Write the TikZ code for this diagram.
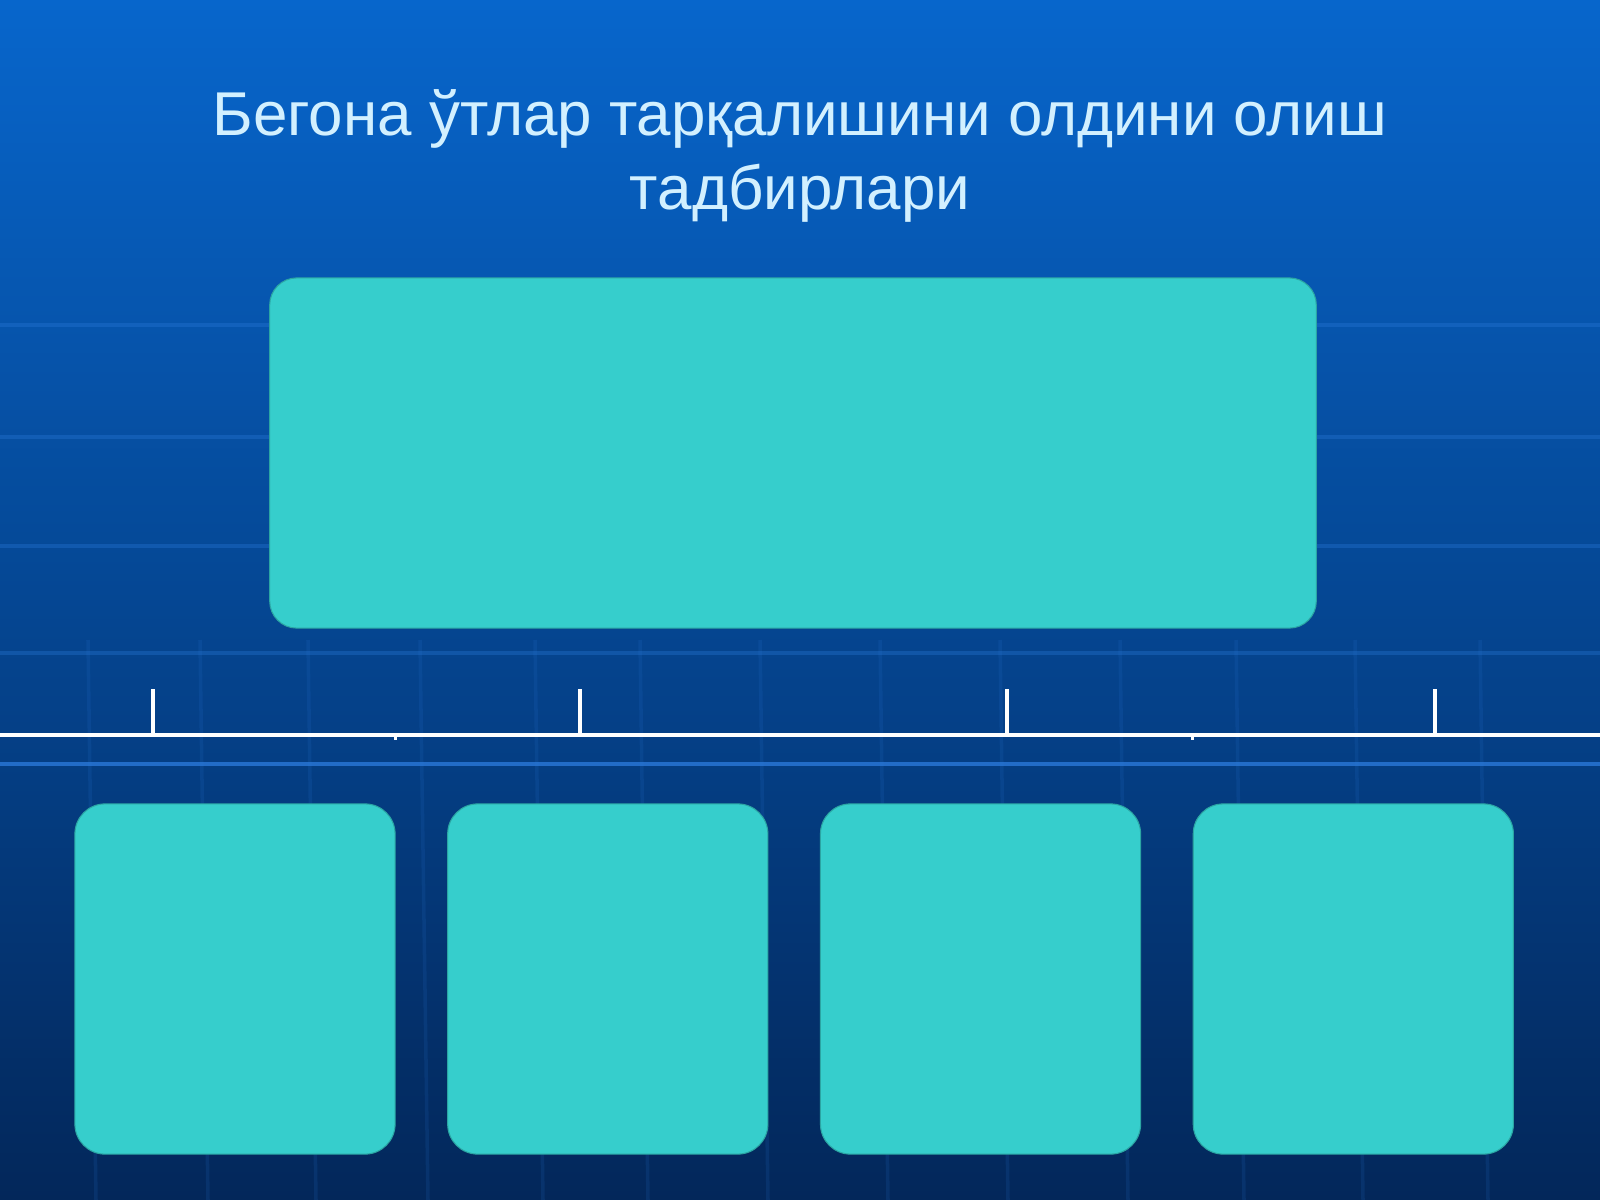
\documentclass[tikz,border=0pt]{standalone}
\usepackage{fontspec}
\setmainfont{Liberation Sans}
\usepackage{tikz}
\usetikzlibrary{positioning}
\definecolor{topblue}{HTML}{0766CC}
\definecolor{midblue}{HTML}{004C9E}
\definecolor{lowblue}{HTML}{03275A}
\definecolor{gridblue}{HTML}{2A78D8}
\definecolor{turq}{HTML}{36CECC}
\definecolor{titlecol}{HTML}{D2F0FF}
\tikzstyle{bigbox} = [rectangle, rounded corners=0.27cm, minimum width=10.46cm, minimum height=3.5cm, fill=turq, draw=turq!80!black, line width=0.3pt]
\tikzstyle{smallbox} = [rectangle, rounded corners=0.3cm, minimum width=3.2cm, minimum height=3.5cm, fill=turq, draw=turq!80!black, line width=0.3pt]
\tikzstyle{bar} = [white, line width=1.4pt]
\tikzstyle{tick} = [white, line width=1pt]
\tikzstyle{gridline} = [gridblue, line width=1pt, opacity=0.35]

\begin{document}
\begin{tikzpicture}[x=0.01cm, y=-0.01cm]
        % Background
        \shade[top color=topblue, middle color=midblue, bottom color=lowblue] (0,0) rectangle (1600,1200);
        \useasboundingbox (0,0) rectangle (1600,1200);
        \foreach \y in {325,437,546,653}
            \draw [gridline] (0,\y) -- (1600,\y);
        \foreach \x in {88,200,308,420,535,640,760,880,1000,1120,1236,1355,1480}
            \draw [gridline, opacity=0.14] (\x,640) -- (\x+8,1200);
        \draw [gridblue, line width=1.1pt, opacity=0.8] (0,764) -- (1600,764);

        % Nodes
        \node (title) [font=\fontsize{17.6}{21}\selectfont, text=titlecol, align=center, anchor=base] at (800,209) {Бегона ўтлар тарқалишини олдини олиш\\тадбирлари};
        \node (top) [bigbox] at (793,453) {};
        \node (boxa) [smallbox] at (235,979) {};
        \node (boxb) [smallbox, right=0.515cm of boxa] {};
        \node (boxc) [smallbox, right=0.515cm of boxb] {};
        \node (boxd) [smallbox, right=0.515cm of boxc] {};

        % Connectors
        \coordinate (barl) at (0,735);
        \coordinate (barr) at (1600,735);
        \draw [bar] (barl) -- (barr);
        \foreach \x [count=\i] in {153,580,1007,1435} {
            \coordinate (t\i) at (\x,689);
            \draw [tick] (t\i) -- (\x,735);
        }
        \draw [tick] (boxa.east |- barl) -- ++(0,5);
        \draw [tick] (boxd.west |- barl) -- ++(0,5);
    \end{tikzpicture}
\end{document}
